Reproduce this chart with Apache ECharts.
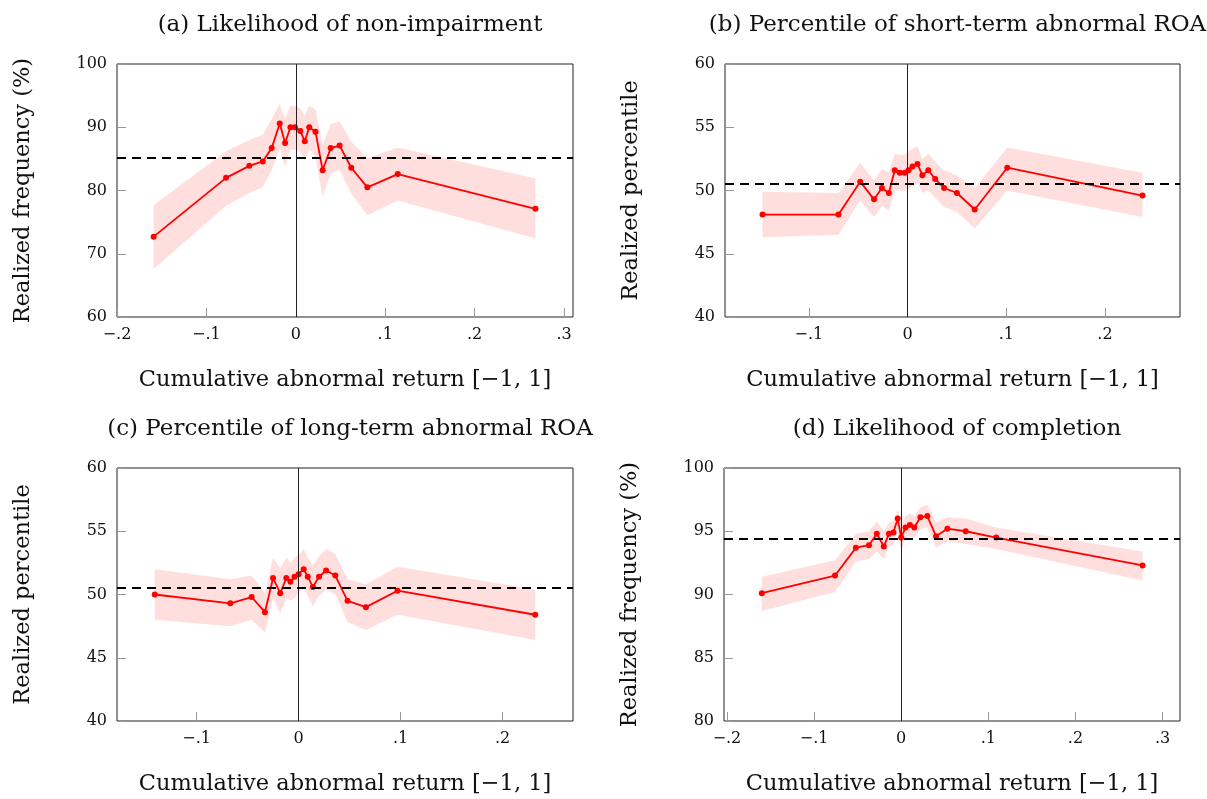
<!DOCTYPE html>
<html>
<head>
<meta charset="utf-8">
<script src="https://cdn.jsdelivr.net/npm/echarts@6/dist/echarts.min.js"></script>
<style>
  html, body { margin: 0; padding: 0; background: #fff; }
  #chart { width: 1207px; height: 799px; }
</style>
</head>
<body>
<div id="chart"></div>
<script>
// (a) likelihood of non-impairment
const xA = [-0.159, -0.078, -0.052, -0.037, -0.027, -0.018, -0.012, -0.006, -0.001, 0.005, 0.010, 0.015, 0.022, 0.030, 0.039, 0.049, 0.062, 0.080, 0.114, 0.268];
const yA = [72.7, 82.0, 83.9, 84.6, 86.7, 90.6, 87.5, 90.0, 90.0, 89.4, 87.8, 90.0, 89.3, 83.2, 86.7, 87.1, 83.6, 80.5, 82.6, 77.1];
const upA = [77.7, 86.2, 88.0, 88.8, 91.3, 93.7, 91.3, 93.4, 93.4, 93.0, 91.8, 93.4, 92.8, 87.2, 90.5, 90.9, 87.7, 85.1, 86.8, 81.9];
const loA = [67.6, 77.6, 79.6, 80.5, 83.2, 86.7, 83.8, 86.5, 86.5, 86.1, 84.8, 86.5, 85.3, 79.0, 82.7, 83.3, 79.5, 76.1, 78.4, 72.4];
const avgA = 85.2;

// (b) percentile of short-term abnormal ROA
const xB = [-0.147, -0.070, -0.048, -0.034, -0.026, -0.019, -0.013, -0.008, -0.003, 0.001, 0.005, 0.010, 0.015, 0.021, 0.028, 0.037, 0.050, 0.068, 0.101, 0.238];
const yB = [48.1, 48.1, 50.7, 49.3, 50.2, 49.8, 51.6, 51.4, 51.4, 51.6, 51.9, 52.1, 51.2, 51.6, 50.9, 50.2, 49.8, 48.5, 51.8, 49.6];
const upB = [49.9, 49.8, 52.2, 50.8, 51.7, 51.4, 52.9, 52.8, 52.8, 53.1, 53.3, 53.5, 52.5, 52.9, 52.3, 51.6, 51.2, 50.2, 53.4, 51.4];
const loB = [46.3, 46.5, 49.2, 47.9, 48.8, 48.4, 50.0, 50.0, 50.0, 50.2, 50.3, 50.6, 49.8, 50.0, 49.4, 48.7, 48.3, 47.0, 50.0, 47.9];
const avgB = 50.5;

// (c) percentile of long-term abnormal ROA
const xC = [-0.141, -0.067, -0.046, -0.033, -0.025, -0.018, -0.012, -0.008, -0.004, 0.000, 0.005, 0.009, 0.014, 0.020, 0.027, 0.036, 0.048, 0.066, 0.097, 0.232];
const yC = [50.0, 49.3, 49.8, 48.6, 51.3, 50.1, 51.3, 51.0, 51.4, 51.6, 52.0, 51.4, 50.6, 51.4, 51.9, 51.5, 49.5, 49.0, 50.3, 48.4];
const upC = [52.0, 51.2, 51.5, 50.1, 52.9, 52.1, 52.9, 52.5, 52.9, 53.1, 53.6, 52.9, 52.3, 53.0, 53.6, 53.2, 51.2, 50.8, 52.2, 50.4];
const loC = [48.0, 47.5, 48.0, 47.0, 49.7, 48.5, 49.7, 49.5, 49.7, 50.1, 50.5, 49.9, 49.1, 49.9, 50.4, 50.0, 47.8, 47.2, 48.4, 46.4];
const avgC = 50.5;

// (d) likelihood of completion
const xD = [-0.160, -0.076, -0.052, -0.037, -0.028, -0.020, -0.014, -0.009, -0.004, 0.000, 0.005, 0.010, 0.015, 0.022, 0.030, 0.040, 0.053, 0.074, 0.109, 0.277];
const yD = [90.1, 91.5, 93.7, 93.9, 94.8, 93.8, 94.8, 94.9, 96.0, 94.5, 95.3, 95.5, 95.3, 96.1, 96.2, 94.6, 95.2, 95.0, 94.5, 92.3];
const upD = [91.4, 92.7, 94.8, 95.0, 95.8, 95.0, 95.7, 95.8, 96.7, 95.6, 96.2, 96.4, 96.2, 96.9, 97.1, 95.7, 96.1, 96.0, 95.3, 93.4];
const loD = [88.7, 90.2, 92.6, 92.8, 93.4, 92.8, 93.8, 93.9, 95.0, 93.4, 94.4, 94.6, 94.4, 95.2, 95.3, 93.7, 94.2, 94.0, 93.6, 91.1];
const avgD = 94.4;

const titles = ['(a) Likelihood of non-impairment', '(b) Percentile of short-term abnormal ROA',
  '(c) Percentile of long-term abnormal ROA', '(d) Likelihood of completion'];
const yNames = ['Realized frequency (%)', 'Realized percentile', 'Realized percentile', 'Realized frequency (%)'];
const xName = 'Cumulative abnormal return [\u22121, 1]';
const xTicks = [[-0.2, -0.1, 0, 0.1, 0.2, 0.3], [-0.1, 0, 0.1, 0.2], [-0.1, 0, 0.1, 0.2], [-0.2, -0.1, 0, 0.1, 0.2, 0.3]];
const xRange = [[-0.2, 0.31], [-0.185, 0.276], [-0.178, 0.269], [-0.2034, 0.32]];
const yRange = [[60, 100, 10], [40, 60, 5], [40, 60, 5], [80, 100, 5]];

const panels = [
  {x: xA, y: yA, up: upA, lo: loA, avg: avgA},
  {x: xB, y: yB, up: upB, lo: loB, avg: avgB},
  {x: xC, y: yC, up: upC, lo: loC, avg: avgC},
  {x: xD, y: yD, up: upD, lo: loD, avg: avgD}
];

const grids = [
  {left: 117, top: 64, width: 456, height: 253},
  {left: 725, top: 64, width: 455, height: 253},
  {left: 117, top: 468, width: 456, height: 253},
  {left: 724, top: 468, width: 456, height: 253}
];

const serif = 'DejaVu Serif';

function fmtX(v) {
  if (Math.abs(v) < 1e-9) return '0';
  const s = Math.abs(v).toFixed(1).replace(/^0/, '');
  return (v < 0 ? '\u2212' : '') + s;
}

const option = {
  animation: false,
  backgroundColor: '#fff',
  title: grids.map((g, i) => ({
    text: titles[i],
    left: g.left + g.width / 2,
    top: g.top - 55,
    textAlign: 'center',
    textStyle: {fontFamily: serif, fontWeight: 'normal', fontSize: 23, color: '#111'}
  })),
  grid: grids.map(g => Object.assign({show: true, borderColor: '#222', borderWidth: 1, backgroundColor: 'transparent'}, g)),
  xAxis: grids.map((g, i) => ({
    type: 'value',
    gridIndex: i,
    min: xRange[i][0],
    max: xRange[i][1],
    name: xName,
    nameLocation: 'middle',
    nameGap: 52,
    nameTextStyle: {fontFamily: serif, fontSize: 22.5, color: '#111'},
    axisLine: {show: false, onZero: false},
    splitLine: {show: false},
    axisTick: {show: true, inside: true, length: 9, lineStyle: {color: '#999'}, customValues: xTicks[i]},
    axisLabel: {fontFamily: serif, fontSize: 16, color: '#111', margin: 10, customValues: xTicks[i], formatter: fmtX}
  })),
  yAxis: grids.map((g, i) => ({
    type: 'value',
    gridIndex: i,
    min: yRange[i][0],
    max: yRange[i][1],
    interval: yRange[i][2],
    name: yNames[i],
    nameLocation: 'middle',
    nameGap: 82,
    nameTextStyle: {fontFamily: serif, fontSize: 22.5, color: '#111'},
    axisLine: {show: false, onZero: false},
    splitLine: {show: false},
    axisTick: {show: true, inside: true, length: 9, lineStyle: {color: '#999'}},
    axisLabel: {fontFamily: serif, fontSize: 16, color: '#111', margin: 10}
  })),
  series: []
};

panels.forEach((p, i) => {
  // confidence band
  option.series.push({
    type: 'custom',
    xAxisIndex: i,
    yAxisIndex: i,
    silent: true,
    clip: true,
    z: 1,
    data: p.x.map((x, k) => [x, p.lo[k], p.up[k]]),
    encode: {x: 0, y: [1, 2]},
    renderItem: function (params, api) {
      if (params.dataIndex !== 0) return;
      const top = p.x.map((x, k) => api.coord([x, p.up[k]]));
      const bot = p.x.map((x, k) => api.coord([x, p.lo[k]])).reverse();
      return {
        type: 'polygon',
        shape: {points: top.concat(bot)},
        style: {fill: 'rgba(255, 0, 0, 0.13)', stroke: null}
      };
    }
  });
  // point estimates
  option.series.push({
    type: 'line',
    xAxisIndex: i,
    yAxisIndex: i,
    z: 3,
    data: p.x.map((x, k) => [x, p.y[k]]),
    symbol: 'circle',
    symbolSize: 6,
    showAllSymbol: true,
    lineStyle: {color: '#ff0000', width: 1.8},
    itemStyle: {color: '#ff0000'},
    markLine: {
      silent: true,
      symbol: 'none',
      label: {show: false},
      animation: false,
      data: [
        {xAxis: 0, lineStyle: {color: '#222', width: 1, type: 'solid'}},
        {yAxis: p.avg, lineStyle: {color: '#000', width: 2, type: [9, 6]}}
      ]
    }
  });
});

const chart = echarts.init(document.getElementById('chart'));
chart.setOption(option);
</script>
</body>
</html>
